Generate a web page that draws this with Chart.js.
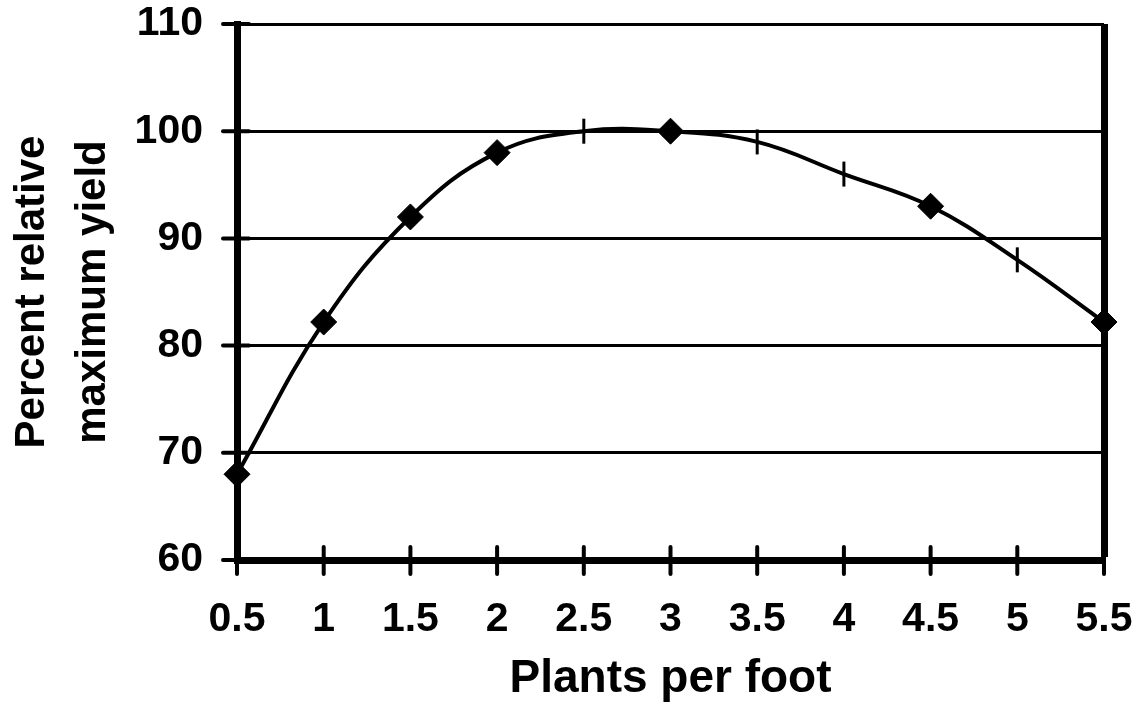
<!DOCTYPE html>
<html lang="en">
<head>
  <meta charset="UTF-8" />
  <title>Percent relative maximum yield</title>
  <script src="https://cdn.jsdelivr.net/npm/chart.js"></script>
  <style>
    body { margin: 0; background: #fff; }
    #wrap { width: 1141px; height: 717px; }
  </style>
</head>
<body>
<div id="wrap"><canvas id="yieldChart" width="1141" height="717"></canvas></div>

<script>
  // plants per foot and percent of max yield
  const plants = [0.5, 1, 1.5, 2, 2.5, 3, 3.5, 4, 4.5, 5, 5.5];
  const yieldPct = [68, 82.2, 92, 98, 100, 100, 99, 96, 93, 88, 82.2];
  // which points carry a diamond (the rest get a short vertical dash)
  const diamond = [true, true, true, true, false, true, false, false, true, false, true];

  const FONT = "'Liberation Sans', Arial, sans-serif";

  // ticks that cross the axis line, like the original
  const crossTicks = {
    id: 'crossTicks',
    afterDraw(chart) {
      const ctx = chart.ctx;
      const x = chart.scales.x, y = chart.scales.y;
      ctx.save();
      ctx.strokeStyle = '#000';
      ctx.lineWidth = 4;
      ctx.lineCap = 'round';
      x.ticks.forEach(t => {
        const px = x.getPixelForValue(t.value);
        ctx.beginPath();
        ctx.moveTo(px, y.bottom - 13);
        ctx.lineTo(px, y.bottom + 14);
        ctx.stroke();
      });
      y.ticks.forEach(t => {
        const py = y.getPixelForValue(t.value);
        ctx.beginPath();
        ctx.moveTo(x.left - 14, py);
        ctx.lineTo(x.left + 12, py);
        ctx.stroke();
      });
      ctx.restore();
    }
  };

  new Chart(document.getElementById('yieldChart'), {
    type: 'line',
    data: {
      datasets: [{
        data: plants.map((p, i) => ({ x: p, y: yieldPct[i] })),
        borderColor: '#000',
        borderWidth: 4,
        tension: 0.4,
        fill: false,
        pointStyle: diamond.map(d => d ? 'rectRot' : 'line'),
        pointRotation: diamond.map(d => d ? 0 : 90),
        pointRadius: diamond.map(d => d ? 13 : 12.5),
        pointBorderWidth: diamond.map(d => d ? 1 : 3),
        pointBackgroundColor: '#000',
        pointBorderColor: '#000',
        clip: false
      }]
    },
    options: {
      responsive: false,
      animation: false,
      layout: { autoPadding: false, padding: { top: 24, right: 37, left: 0, bottom: 0 } },
      plugins: { legend: { display: false }, tooltip: { enabled: false } },
      scales: {
        x: {
          type: 'linear',
          min: 0.5,
          max: 5.5,
          border: { display: true, color: '#000', width: 7 },
          grid: {
            drawTicks: false,
            color: c => (c.tick && c.tick.value === 5.5) ? '#000' : 'rgba(0,0,0,0)',
            lineWidth: c => (c.tick && c.tick.value === 5.5) ? 7 : 0
          },
          ticks: {
            stepSize: 0.5,
            padding: 35,
            color: '#000',
            maxRotation: 0,
            callback: v => String(Number(v)),
            font: { family: FONT, size: 41, weight: 'bold' }
          },
          title: {
            display: true,
            text: 'Plants per foot',
            color: '#000',
            padding: { top: 0, bottom: 10 },
            font: { family: FONT, size: 46, weight: 'bold' }
          },
          // the library counts tick padding twice, so pin the box sizes
          afterFit: s => { s.height = 157; s.paddingLeft = 0; s.paddingRight = 0; }
        },
        y: {
          min: 60,
          max: 110,
          border: { display: true, color: '#000', width: 7 },
          grid: {
            drawTicks: false,
            color: '#000',
            lineWidth: 3
          },
          ticks: {
            stepSize: 10,
            padding: 34,
            color: '#000',
            font: { family: FONT, size: 41, weight: 'bold' }
          },
          title: {
            display: true,
            text: ['Percent relative', 'maximum yield'],
            color: '#000',
            padding: { top: 2, bottom: 0 },
            font: { family: FONT, size: 42, weight: 'bold', lineHeight: 1.45 }
          },
          afterFit: s => { s.width = 237; s.paddingTop = 0; s.paddingBottom = 0; }
        }
      }
    },
    plugins: [crossTicks]
  });
</script>
</body>
</html>
